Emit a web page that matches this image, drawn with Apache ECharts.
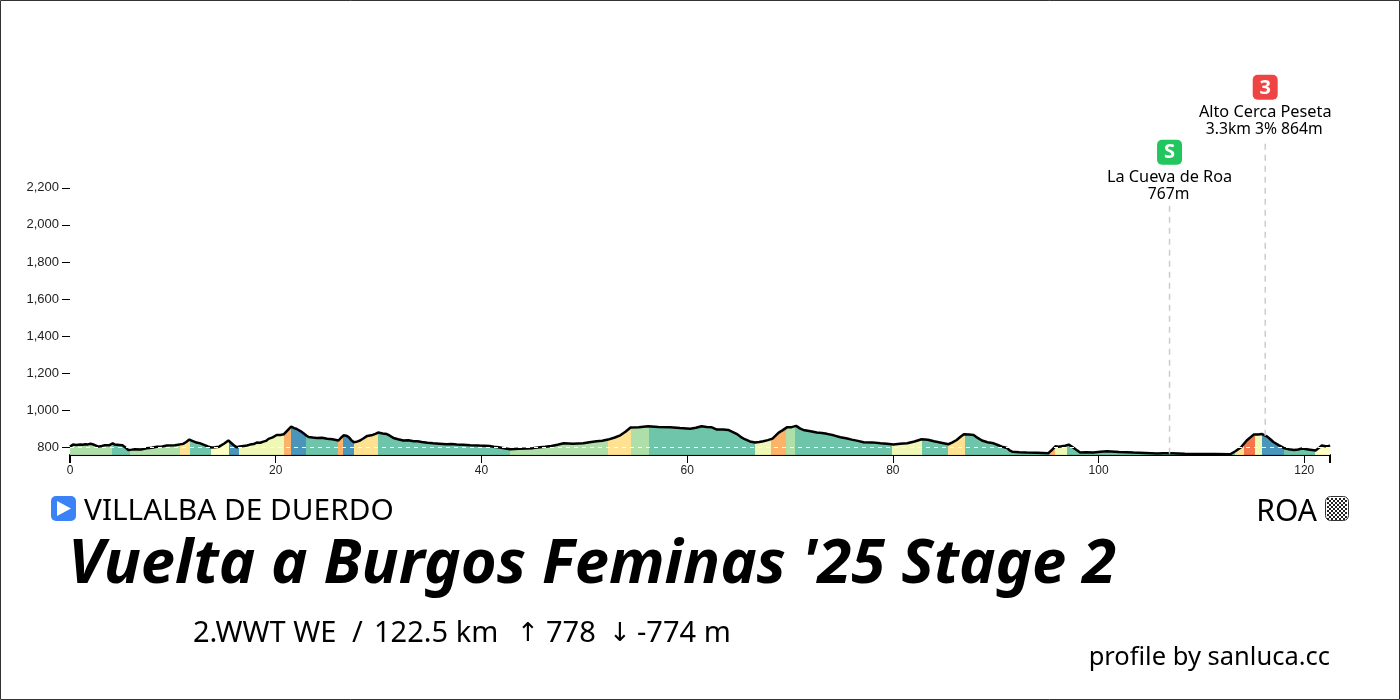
<!DOCTYPE html>
<html><head><meta charset="utf-8">
<style>html,body{margin:0;padding:0;background:#fff}#c{width:1400px;height:700px}</style>
<script src="https://cdn.jsdelivr.net/npm/echarts@6/dist/echarts.min.js"></script>
</head><body><div id="c"></div>
<script>
const distanceKm=[
0,.15,.3,.6,1,1.25,1.46,1.75,2,2.35,
2.76,3.1,3.4,3.8,4.15,4.35,4.54,4.8,5.1,5.4,
5.67,6,6.3,6.9,7.46,7.95,8.43,8.9,9.4,10.2,
11,11.3,11.6,11.95,12.3,12.6,12.97,13.4,13.78,14.1,
14.5,15,15.4,15.65,15.9,16.2,16.5,16.86,17.2,17.5,
17.85,18.16,18.5,18.8,19.05,19.3,19.7,20.1,20.45,20.8,
21.15,21.5,21.8,22.05,22.4,22.7,23,23.2,23.6,24,
24.5,25,25.5,26.1,26.35,26.6,26.85,27.1,27.35,27.6,
27.9,28.2,28.55,28.9,29.3,29.7,29.95,30.4,30.8,31.1,
31.44,31.9,32.4,32.9,33.4,33.8,34.2,34.75,35.3,35.9,
36.6,37.1,37.6,38.25,38.9,39.8,40.8,41.2,41.65,42.2,
42.8,43.6,44.4,45,45.7,46.2,46.8,47.4,48,48.9,
49.9,50.5,51.2,51.75,52.3,52.9,53.5,54,54.5,55.3,
56.2,57.2,58.35,59.3,60.3,60.85,61.4,61.9,62.4,62.9,
63.5,64,64.4,64.8,65.2,65.6,66.1,66.6,67,67.4,
67.85,68.3,68.6,68.9,69.3,69.7,70.15,70.6,71,71.3,
72,72.6,73.1,73.6,74.25,74.9,75.45,76,76.6,77.15,
78,78.8,79.4,80.07,80.7,81.4,82.1,82.8,83.4,84,
84.7,85.4,85.8,86.2,86.55,86.9,87.4,87.85,88.25,88.66,
89.2,89.8,90.2,90.6,91.1,91.35,91.6,92.3,93,94,
95.1,95.4,95.8,96.1,96.4,96.75,97.1,97.6,97.9,98.2,
98.8,99.5,100.2,100.8,102,103.4,104.5,105.7,106.3,107,
108.4,109.9,111.3,112.8,113.3,113.85,114.4,114.75,115.1,115.5,
115.9,116.4,116.7,117,117.5,118,118.5,119,119.4,119.8,
120.4,121.1,121.4,121.7,122.05,122.4,122.5];
const elevationM=[
805,812,816,814,817,815,818,817,821,815,
805,809,813,812,823,816,811,814,812,800,
787,789,791,790,796,799,804,805,811,813,
820,830,843,835,827,824,816,806,800,802,
805,822,838,826,814,802,806,809,811,816,
819,827,826,832,836,847,855,868,868,872,
893,913,905,900,889,877,864,857,854,852,
853,848,845,838,853,866,864,856,840,829,
832,838,850,863,866,874,881,876,873,864,
852,845,838,839,834,834,830,826,823,821,
818,819,816,815,813,811,809,805,802,796,
791,794,795,797,802,804,809,815,823,821,
823,829,834,837,843,853,866,885,908,910,
915,911,909,905,902,907,915,911,909,897,
897,895,885,874,858,845,833,827,830,834,
840,848,864,881,894,909,910,917,902,895,
888,881,879,874,866,856,850,843,836,829,
828,823,821,816,820,823,833,845,842,834,
826,818,828,841,857,872,870,868,852,838,
829,823,814,805,798,785,778,775,773,772,
769,784,807,805,807,810,816,798,785,773,
775,773,778,780,776,773,771,768,770,769,
767,766,766,764,780,802,838,855,870,871,
873,859,845,830,813,798,791,787,790,795,
790,784,797,811,807,809,812];
const C={blue:'#3f90b6',teal:'#66c2a5',green:'#abdda4',lime:'#eef7b0',pale:'#ffffbf',yellow:'#fee08b',orange:'#fdae61',red:'#f46d43'};
const gradeEndKm=[4.06,5.84,10.7,11.67,13.7,15.46,16.43,20.78,21.52,22.9,26.06,26.55,27.6,29.95,42.8,52.3,54.5,56.3,66.6,68.2,69.6,70.5,79.9,82.8,85.4,87,91.6,95.3,95.8,96.9,98.2,113.3,114.1,115.2,115.9,118,121,122.5];
const gradeColor=['green','teal','green','yellow','teal','pale','blue','lime','orange','blue','teal','orange','blue','yellow','teal','green','yellow','green','teal','lime','orange','green','teal','lime','teal','yellow','teal','teal','orange','lime','teal','teal','yellow','red','lime','blue','teal','pale'];
const xTicks=[0,20,40,60,80,100,120,122.5];
const xEndTicks=[0,122.5];
const xLabels=[0,20,40,60,80,100,120];
const yTicks=[800,1000,1200,1400,1600,1800,2000,2200];
const climbKm=[106.9,116.2];
const climbBase=[767,864];
const climbTop=[2114,2464];
const climbBadge=['S','3'];
const climbBadgeColor=['#22c55e','#ef4444'];
const climbName=['La Cueva de Roa','Alto Cerca Peseta'];
const climbInfo=['767m','3.3km 3% 864m'];
const startName='VILLALBA DE DUERDO', finishName='ROA';
const titleText="Vuelta a Burgos Feminas '25 Stage 2";
const subParts=[['2.WWT WE',193],['/',352],['122.5 km',374],['↑',517],['778',546],['↓',609],['-774 m',637]];
const creditText='profile by sanluca.cc';

const FONT='"Noto Sans"';
const profile=distanceKm.map((d,i)=>[d,elevationM[i]]);
const pieces=gradeEndKm.map((e,i)=>({gte:i?gradeEndKm[i-1]:0,lt:i===gradeEndKm.length-1?e+1:e,color:C[gradeColor[i]]}));
const checker=[{type:'rect',shape:{x:1325.5,y:496.5,width:23,height:24,r:5},style:{fill:'#fff',stroke:'#333',lineWidth:1}}];
for(let r=0;r<11;r++)for(let q=0;q<10;q++)if((r+q)%2===0)checker.push({type:'rect',shape:{x:1327+q*2,y:498+r*2,width:2,height:2},style:{fill:'#222'}});
const chart=echarts.init(document.getElementById('c'));
const txt=(x,y,t,size,extra)=>({type:'text',x,y,style:Object.assign({text:t,fontFamily:FONT,fontSize:size,fill:'#000',verticalAlign:'middle'},extra||{})});
chart.setOption({
 animation:false,
 grid:{left:70,right:70,top:187.8,bottom:245,containLabel:false},
 visualMap:{show:false,type:'piecewise',seriesIndex:0,dimension:0,pieces:pieces},
 xAxis:[
 {type:'value',min:0,max:122.5,splitLine:{show:false},
  axisLine:{lineStyle:{color:'#000',width:2}},
  axisTick:{length:8,lineStyle:{color:'#000',width:1},customValues:xTicks},
  axisLabel:{color:'#222',fontFamily:'"Liberation Sans"',fontSize:12,margin:10,customValues:xLabels}},
 {type:'value',position:'bottom',min:0,max:122.5,splitLine:{show:false},axisLine:{show:false},
  axisTick:{length:8,lineStyle:{color:'#000',width:2},customValues:xEndTicks},
  axisLabel:{show:false}}
 ],
 yAxis:{type:'value',min:760,max:2200,splitLine:{show:false},axisLine:{show:false},
  axisTick:{show:true,length:8,lineStyle:{color:'#000',width:1},customValues:yTicks},
  axisLabel:{color:'#222',fontFamily:'"Liberation Sans"',fontSize:13,margin:11,customValues:yTicks,formatter:v=>v.toLocaleString('en-US')}},
 series:[
  {type:'line',data:profile,symbol:'none',z:2,lineStyle:{width:0},areaStyle:{opacity:0.95,origin:'start'},
   markLine:{silent:true,symbol:'none',label:{show:false},lineStyle:{color:'#fff',type:[4,4],width:1},data:[{yAxis:800}]}},
  {type:'line',data:profile,symbol:'none',z:4,lineStyle:{color:'#000',width:2.5}},
  {type:'custom',z:5,clip:false,data:climbKm.map((k,i)=>[k,climbBase[i],climbTop[i],i]),
   renderItem:(p,api)=>{
    const i=api.value(3);
    const a=api.coord([api.value(0),api.value(1)]), b=api.coord([api.value(0),api.value(2)]);
    const x=a[0], t=b[1];
    return {type:'group',children:[
     {type:'line',shape:{x1:x,y1:a[1],x2:x,y2:t},style:{stroke:'#ccc',lineWidth:1.5,lineDash:[6,5]}},
     {type:'text',x:x-1,y:t-9,style:{text:climbInfo[i],fontFamily:FONT,fontSize:15.7,fill:'#000',align:'center',verticalAlign:'middle'}},
     {type:'text',x:x,y:t-26,style:{text:climbName[i],fontFamily:FONT,fontSize:16.3,fill:'#000',align:'center',verticalAlign:'middle'}},
     {type:'rect',shape:{x:x-12.5,y:t-64,width:25,height:25,r:5},style:{fill:climbBadgeColor[i]}},
     {type:'text',x:x,y:t-51,style:{text:climbBadge[i],fontFamily:FONT,fontWeight:'bold',fontSize:20,fill:'#fff',align:'center',verticalAlign:'middle'}}
    ]};
   }}
 ],
 graphic:[
  {type:'rect',silent:true,shape:{x:0.5,y:0.5,width:1399,height:699},style:{fill:'none',stroke:'#333',lineWidth:1}},
  {type:'rect',shape:{x:51,y:496,width:25,height:25,r:5},style:{fill:'#3b82f6'}},
  {type:'polygon',shape:{points:[[57,501],[57,516],[71,508.5]]},style:{fill:'#fff'}},
  txt(84,512,startName,29.8),
  txt(1317,512,finishName,30,{align:'right'}),
  ...checker,
  txt(68,565,titleText,61.5,{fontWeight:'bold',fontStyle:'italic'}),
  ...subParts.map(([t,x])=>txt(x,634,t,/[↑↓]/.test(t)?26:29,/[↑↓]/.test(t)?{fontFamily:'"DejaVu Sans"'}:{})),
  txt(1330,658,creditText,25.5,{align:'right'})
 ]
});
</script></body></html>
